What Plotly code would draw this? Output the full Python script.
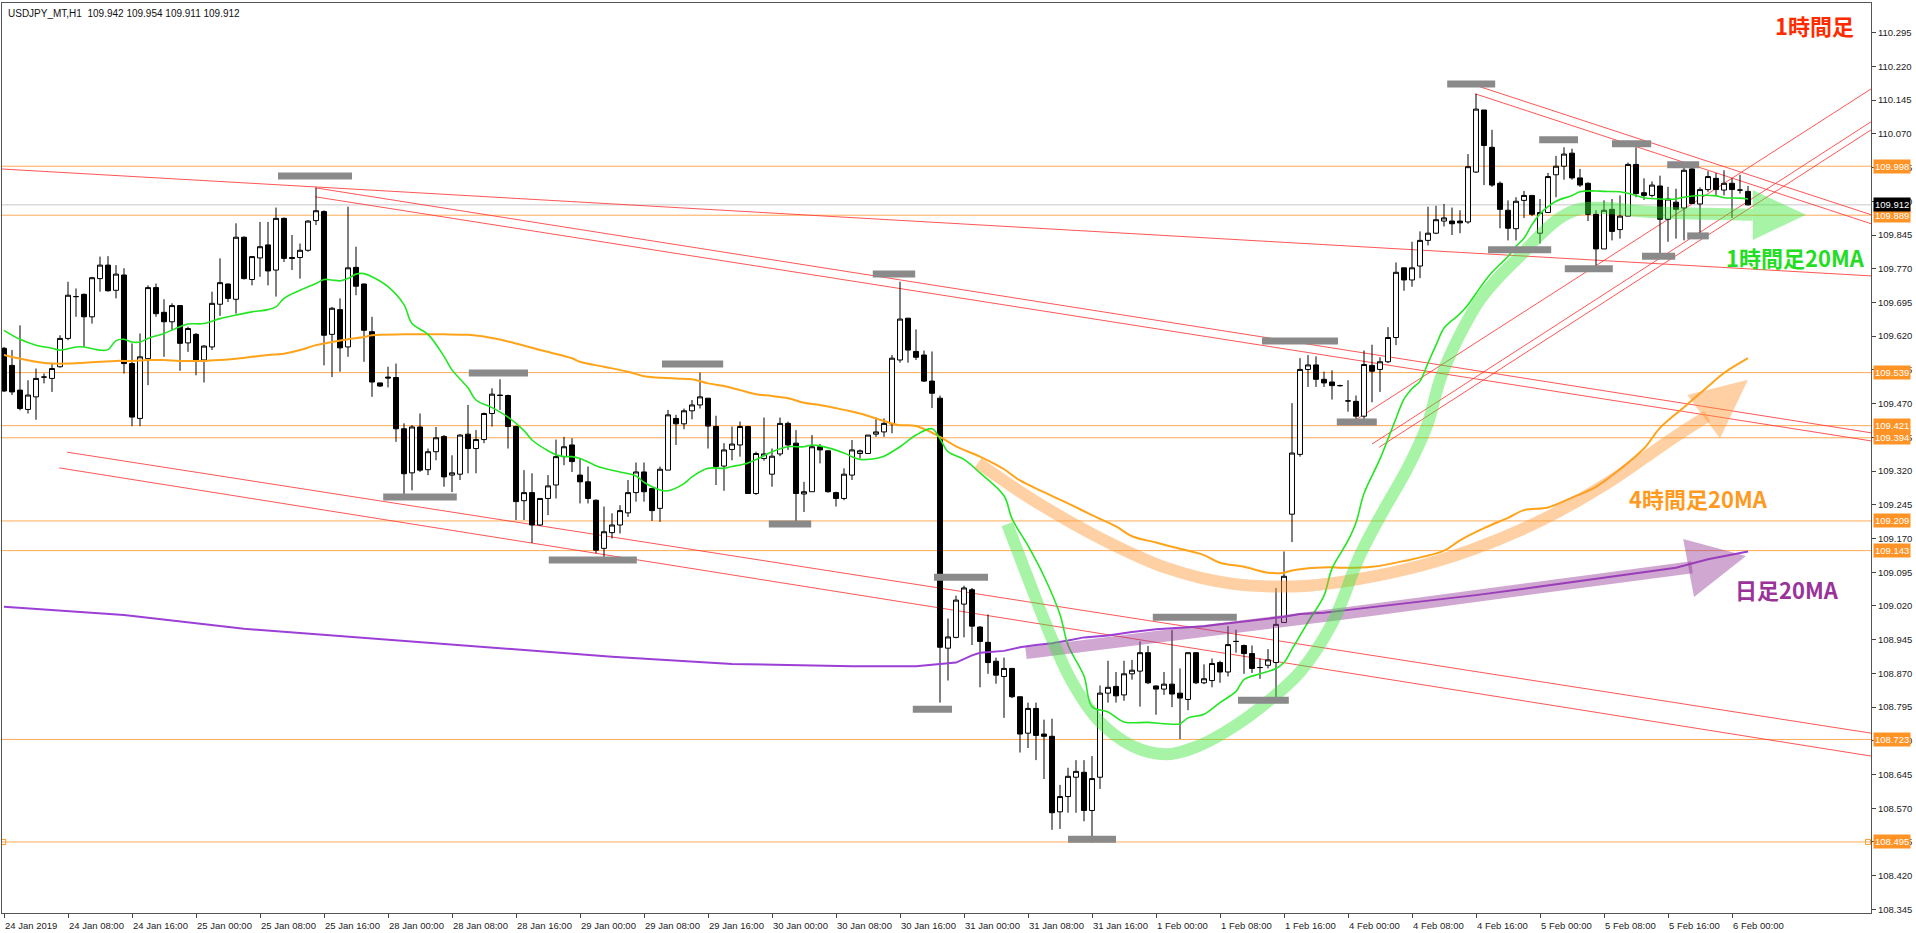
import plotly.graph_objects as go

# ---------------- data ----------------
opens = [109.593,109.555,109.500,109.457,109.485,109.529,109.526,109.552,109.615,109.708,
109.713,109.663,109.748,109.778,109.722,109.756,109.559,109.437,109.570,109.728,
109.673,109.652,109.688,109.605,109.624,109.567,109.596,109.691,109.736,109.702,
109.840,109.746,109.794,109.823,109.767,109.882,109.795,109.795,109.811,109.877,
109.897,109.624,109.679,109.596,109.773,109.736,109.630,109.516,109.529,109.528,
109.414,109.316,109.418,109.323,109.363,109.397,109.311,109.313,109.402,109.370,
109.390,109.448,109.489,109.488,109.419,109.254,109.272,109.200,109.259,109.289,
109.352,109.378,109.311,109.296,109.255,109.148,109.183,109.200,109.227,109.272,
109.318,109.281,109.237,109.322,109.437,109.425,109.454,109.467,109.482,109.419,
109.331,109.368,109.378,109.419,109.270,109.348,109.313,109.358,109.426,109.382,
109.269,109.274,109.374,109.365,109.272,109.259,109.311,109.359,109.359,109.402,
109.407,109.425,109.567,109.660,109.586,109.578,109.520,109.482,108.926,108.950,
109.024,109.056,108.973,108.939,108.897,108.863,108.881,108.818,108.737,108.792,
108.735,108.730,108.562,108.596,108.639,108.650,108.565,108.639,108.826,108.841,
108.822,108.869,108.875,108.916,108.842,108.835,108.846,108.826,108.812,108.916,
108.849,108.854,108.894,108.873,108.941,108.932,108.914,108.883,108.888,108.894,
108.983,109.224,109.357,109.546,109.556,109.524,109.518,109.510,109.476,109.475,
109.442,109.555,109.546,109.563,109.617,109.772,109.745,109.776,109.833,109.849,
109.876,109.876,109.876,109.874,109.985,110.123,110.040,109.960,109.900,109.859,
109.922,109.933,109.849,109.895,109.979,109.998,110.027,109.972,109.960,109.891,
109.814,109.902,109.857,109.887,110.002,109.939,109.933,109.954,109.880,109.918,
109.905,109.992,109.914,109.946,109.971,109.945,109.960,109.945,109.942]
highs = [109.596,109.589,109.644,109.522,109.548,109.537,109.559,109.622,109.741,109.726,
109.715,109.752,109.797,109.798,109.778,109.771,109.604,109.626,109.733,109.737,
109.702,109.693,109.689,109.641,109.627,109.600,109.719,109.793,109.737,109.871,
109.842,109.798,109.874,109.874,109.906,109.884,109.845,109.826,109.878,109.950,
109.900,109.685,109.704,109.908,109.819,109.737,109.663,109.516,109.552,109.559,
109.426,109.422,109.448,109.370,109.418,109.400,109.355,109.402,109.467,109.411,
109.450,109.504,109.524,109.490,109.421,109.322,109.315,109.259,109.311,109.390,
109.396,109.393,109.348,109.330,109.257,109.241,109.226,109.244,109.300,109.339,
109.339,109.282,109.330,109.456,109.445,109.459,109.478,109.539,109.482,109.443,
109.382,109.419,109.430,109.419,109.363,109.439,109.370,109.439,109.430,109.411,
109.296,109.400,109.380,109.366,109.274,109.326,109.389,109.368,109.400,109.439,
109.437,109.578,109.741,109.660,109.635,109.588,109.586,109.488,108.992,109.043,
109.065,109.060,108.975,109.001,108.905,108.905,108.882,108.818,108.805,108.805,
108.767,108.769,108.622,108.660,108.677,108.677,108.686,108.843,108.898,108.873,
108.898,108.900,108.941,108.931,108.843,108.873,108.966,108.881,108.916,108.917,
108.890,108.903,108.898,108.975,108.967,108.934,108.932,108.903,108.924,109.060,
109.141,109.471,109.571,109.578,109.575,109.541,109.544,109.512,109.522,109.488,
109.588,109.601,109.573,109.640,109.784,109.772,109.830,109.853,109.908,109.910,
109.914,109.906,109.900,110.025,110.159,110.123,110.079,109.964,109.922,109.929,
109.943,109.933,109.925,109.983,110.021,110.040,110.037,109.992,109.962,109.900,
109.922,109.925,109.933,110.006,110.040,109.971,109.964,109.977,109.952,109.948,
109.994,109.994,109.951,109.987,109.983,109.989,109.971,109.979,109.954]
lows = [109.496,109.489,109.455,109.448,109.434,109.515,109.496,109.550,109.611,109.663,
109.596,109.648,109.719,109.719,109.704,109.537,109.420,109.420,109.511,109.663,
109.574,109.633,109.543,109.585,109.533,109.517,109.589,109.665,109.696,109.670,
109.746,109.733,109.752,109.733,109.708,109.785,109.767,109.748,109.808,109.867,
109.555,109.529,109.541,109.574,109.711,109.563,109.485,109.507,109.506,109.385,
109.262,109.277,109.318,109.311,109.344,109.285,109.273,109.300,109.315,109.315,
109.382,109.419,109.456,109.370,109.211,109.211,109.160,109.198,109.222,109.259,
109.333,109.318,109.248,109.248,109.137,109.129,109.170,109.181,109.218,109.252,
109.252,109.209,109.207,109.322,109.378,109.413,109.435,109.459,109.370,109.289,
109.276,109.344,109.352,109.270,109.267,109.343,109.285,109.353,109.367,109.207,
109.229,109.274,109.337,109.272,109.241,109.255,109.300,109.348,109.358,109.396,
109.396,109.404,109.561,109.561,109.567,109.518,109.460,108.805,108.854,108.948,
108.950,108.933,108.839,108.869,108.847,108.771,108.815,108.694,108.704,108.677,
108.635,108.522,108.524,108.560,108.560,108.541,108.494,108.613,108.805,108.805,
108.809,108.856,108.796,108.846,108.778,108.822,108.795,108.724,108.788,108.846,
108.846,108.839,108.849,108.863,108.916,108.869,108.871,108.858,108.881,108.815,
108.983,109.162,109.352,109.507,109.507,109.507,109.479,109.508,109.452,109.431,
109.435,109.473,109.496,109.560,109.600,109.721,109.730,109.749,109.822,109.847,
109.864,109.845,109.849,109.870,109.983,109.956,109.952,109.860,109.833,109.833,
109.883,109.887,109.826,109.895,109.929,109.968,109.968,109.952,109.876,109.772,
109.814,109.833,109.837,109.887,109.929,109.923,109.929,109.795,109.830,109.837,
109.833,109.914,109.841,109.941,109.933,109.933,109.883,109.937,109.911]
closes = [109.498,109.496,109.459,109.489,109.526,109.529,109.548,109.615,109.711,109.708,
109.663,109.750,109.778,109.721,109.758,109.559,109.440,109.574,109.728,109.670,
109.652,109.688,109.604,109.637,109.567,109.598,109.693,109.739,109.704,109.840,
109.748,109.797,109.819,109.765,109.882,109.793,109.793,109.811,109.876,109.899,
109.622,109.682,109.594,109.772,109.731,109.633,109.518,109.509,109.527,109.414,
109.314,109.418,109.322,109.363,109.394,109.307,109.316,109.400,109.370,109.390,
109.448,109.491,109.488,109.419,109.252,109.272,109.200,109.259,109.287,109.352,
109.374,109.341,109.296,109.259,109.144,109.185,109.200,109.232,109.272,109.318,
109.274,109.232,109.324,109.445,109.425,109.454,109.467,109.485,109.420,109.330,
109.367,109.380,109.419,109.270,109.359,109.358,109.353,109.426,109.378,109.270,
109.274,109.374,109.367,109.274,109.259,109.313,109.367,109.365,109.400,109.407,
109.426,109.571,109.658,109.589,109.573,109.520,109.493,108.928,108.951,109.033,
109.060,108.975,108.941,108.894,108.866,108.881,108.818,108.735,108.792,108.732,
108.730,108.560,108.596,108.641,108.652,108.565,108.636,108.826,108.839,108.820,
108.869,108.877,108.916,108.849,108.835,108.846,108.824,108.815,108.916,108.849,
108.858,108.892,108.873,108.934,108.941,108.914,108.881,108.883,108.900,108.979,
109.086,109.360,109.546,109.556,109.524,109.516,109.510,109.510,109.476,109.442,
109.557,109.542,109.563,109.617,109.762,109.745,109.772,109.833,109.849,109.879,
109.883,109.870,109.872,109.997,110.125,110.044,109.956,109.902,109.860,109.920,
109.933,109.891,109.895,109.975,109.998,110.025,109.972,109.956,109.891,109.814,
109.900,109.853,109.887,110.002,109.937,109.933,109.956,109.880,109.925,109.902,
109.989,109.915,109.946,109.975,109.946,109.960,109.946,109.945,109.912]

# moving averages read at bar indices
ma1h_bar = [0,2,4,6,7,9,10,12,13,14,15,16,17,18,20,22,23,25,27,29,31,33,34,35,37,39,40,41,42,43,44,45,46,48,
            50,51,53,55,56,58,59,61,63,65,66,68,69,70,71,72,74,75,77,79,80,82,83,85,86,88,90,91,93,95,96,98,
            100,101,102,105,106,107,109,110,112,114,116,117,118,120,122,125,126,128,130,132,133,135,136,138,
            140,143,145,147,148,150,152,154,155,157,159,160,161,163,165,166,168,169,170,172,174,175,176,177,
            178,179,180,181,182,183,184,185,186,187,188,189,190,191,192,193,194,196,197,199,200,202,204,205,
            207,209,210,212,214,215,217,218]
ma1h_val = [109.633,109.613,109.600,109.593,109.589,109.596,109.596,109.589,109.590,109.610,109.613,109.607,
            109.607,109.615,109.626,109.641,109.647,109.648,109.659,109.667,109.674,109.679,109.685,109.704,
            109.722,109.737,109.746,109.745,109.743,109.748,109.758,109.759,109.752,109.730,109.690,109.648,
            109.624,109.575,109.545,109.505,109.478,109.461,109.440,109.410,109.389,109.365,109.356,109.352,
            109.352,109.348,109.332,109.326,109.318,109.309,109.295,109.278,109.276,109.292,109.307,109.326,
            109.326,109.330,109.338,109.354,109.363,109.374,109.374,109.378,109.376,109.360,109.352,109.346,
            109.348,109.353,109.374,109.400,109.414,109.392,109.363,109.346,109.316,109.265,109.214,109.154,
            109.086,109.001,108.933,108.864,108.796,108.784,108.762,108.761,108.758,108.758,108.771,108.779,
            108.805,108.830,108.856,108.869,108.881,108.894,108.924,108.984,109.043,109.103,109.165,109.205,
            109.270,109.347,109.437,109.480,109.503,109.520,109.560,109.600,109.638,109.655,109.670,109.690,
            109.715,109.740,109.762,109.780,109.797,109.820,109.838,109.868,109.892,109.908,109.920,109.933,
            109.941,109.943,109.942,109.941,109.933,109.928,109.925,109.925,109.929,109.933,109.932,109.928,
            109.927,109.925]
ma4h_bar = [0,2,4,6,8,10,12,14,16,18,20,22,25,27,29,31,33,35,37,39,41,43,45,46,50,53,55,58,60,63,67,71,72,
            75,78,80,84,86,88,90,92,94,96,98,100,102,105,107,109,111,112,114,117,119,122,125,127,130,133,136,
            139,141,144,147,150,152,155,158,160,161,164,166,167,171,175,180,182,185,188,190,193,196,199,202,
            205,207,210,213,215,218]
ma4h_val = [109.578,109.570,109.563,109.559,109.559,109.561,109.563,109.565,109.565,109.567,109.567,109.565,
            109.565,109.567,109.570,109.574,109.578,109.581,109.589,109.600,109.607,109.613,109.618,109.622,
            109.624,109.624,109.624,109.623,109.619,109.608,109.589,109.571,109.563,109.552,109.541,109.531,
            109.526,109.524,109.515,109.509,109.500,109.491,109.487,109.482,109.472,109.467,109.456,109.448,
            109.437,109.426,109.422,109.420,109.396,109.375,109.352,109.324,109.299,109.273,109.248,109.222,
            109.197,109.175,109.161,109.147,109.133,109.116,109.107,109.094,109.094,109.099,109.105,109.106,
            109.105,109.107,109.120,109.143,109.166,109.193,109.216,109.233,109.239,109.261,109.285,109.324,
            109.370,109.416,109.462,109.508,109.538,109.571]
ma1d_bar = [0,15,30,45,61,76,91,106,114,119,121,122,125,127,129,131,133,135,138,141,144,147,150,152,155,157,
            160,162,165,167,175,184,192,200,209,213,218]
ma1d_val = [109.018,109.000,108.969,108.949,108.927,108.907,108.891,108.886,108.886,108.894,108.910,108.916,
            108.920,108.928,108.933,108.937,108.943,108.950,108.954,108.962,108.968,108.971,108.975,108.979,
            108.985,108.990,108.996,109.002,109.005,109.009,109.025,109.044,109.063,109.082,109.105,109.124,
            109.141]

tick_labels = ["24 Jan 2019", "24 Jan 08:00", "24 Jan 16:00", "25 Jan 00:00", "25 Jan 08:00", "25 Jan 16:00",
               "28 Jan 00:00", "28 Jan 08:00", "28 Jan 16:00", "29 Jan 00:00", "29 Jan 08:00", "29 Jan 16:00",
               "30 Jan 00:00", "30 Jan 08:00", "30 Jan 16:00", "31 Jan 00:00", "31 Jan 08:00", "31 Jan 16:00",
               "1 Feb 00:00", "1 Feb 08:00", "1 Feb 16:00", "4 Feb 00:00", "4 Feb 08:00", "4 Feb 16:00",
               "5 Feb 00:00", "5 Feb 08:00", "5 Feb 16:00", "6 Feb 00:00"]
price_ticks = [110.295, 110.220, 110.145, 110.070, 109.995, 109.920, 109.845, 109.770, 109.695, 109.620,
               109.545, 109.470, 109.395, 109.320, 109.245, 109.170, 109.095, 109.020, 108.945, 108.870,
               108.795, 108.720, 108.645, 108.570, 108.495, 108.420, 108.345]
levels = [109.998, 109.889, 109.539, 109.421, 109.394, 109.209, 109.143, 108.723, 108.495]
last_price = 109.912
header = "USDJPY_MT,H1  109.942 109.954 109.911 109.912"

# drawn trend lines: ((bar, price), (bar, price))
trend_lines = [((-0.5, 109.992), (233.4, 109.754)),
               ((38.9, 109.950), (233.4, 109.405)),
               ((38.9, 109.930), (233.4, 109.387)),
               ((7.9, 109.362), (233.4, 108.737)),
               ((6.9, 109.327), (233.4, 108.686)),
               ((168.9, 109.433), (233.4, 110.170)),
               ((171.0, 109.380), (233.4, 110.097)),
               ((171.9, 109.373), (233.4, 110.079)),
               ((184.1, 110.177), (233.4, 109.890)),
               ((183.9, 110.159), (233.4, 109.870))]
# high/low markers: (bar from, bar to, price)
markers = [(34.25, 43.5, 109.976), (47.4, 56.6, 109.262), (58.1, 65.5, 109.538), (82.25, 89.9, 109.558),
           (68.1, 79.1, 109.122), (95.6, 100.9, 109.202), (108.6, 113.9, 109.758), (113.6, 118.5, 108.790),
           (116.25, 123.0, 109.084), (133.0, 139.0, 108.501), (143.6, 154.1, 108.995), (154.25, 160.6, 108.810),
           (157.25, 166.75, 109.609), (166.6, 171.6, 109.429), (180.4, 186.4, 110.181), (185.5, 193.4, 109.812),
           (191.9, 196.75, 110.057), (195.1, 201.1, 109.770), (201.0, 205.9, 110.048), (204.75, 208.9, 109.798),
           (207.9, 211.9, 110.001), (210.4, 213.1, 109.843)]
# hand-drawn arrows (bar, price)
orange_arrow = [(121.75, 109.338), (128.6, 109.256), (137, 109.171), (145.4, 109.104), (153.6, 109.069),
                (162, 109.064), (167, 109.073), (175.4, 109.102), (183.6, 109.146), (192, 109.209),
                (200.4, 109.293), (208.6, 109.393), (212.9, 109.442)]
orange_head = [(210.4, 109.489), (214.5, 109.393), (218.0, 109.523)]
green_arrow = [(125.4, 109.202), (127.9, 109.086), (130.75, 108.957), (133.6, 108.848), (137, 108.762),
               (141.1, 108.708), (145.4, 108.690), (149.5, 108.710), (153.6, 108.750), (157.9, 108.806),
               (162, 108.873), (166.1, 108.984), (169.5, 109.133), (172.4, 109.231), (175.4, 109.325),
               (177.9, 109.422), (179.5, 109.523), (181.1, 109.591), (182.9, 109.654), (184.5, 109.701),
               (187, 109.754), (189.5, 109.798), (192, 109.845), (194.5, 109.883), (197, 109.903),
               (200.4, 109.905), (204.5, 109.898), (208.6, 109.894), (212.9, 109.892), (218.6, 109.890)]
green_head = [(218.6, 109.945), (218.6, 109.834), (225.25, 109.890)]
purple_arrow = [(127.75, 108.915), (167, 109.002), (197, 109.073), (211, 109.106)]
purple_head = [(209.9, 109.169), (211.25, 109.040), (217.75, 109.131)]

# ---------------- figure ----------------
bars = list(range(len(opens)))
fig = go.Figure()

fig.add_trace(go.Candlestick(
    x=bars, open=opens, high=highs, low=lows, close=closes,
    increasing=dict(line=dict(color="black", width=1), fillcolor="white"),
    decreasing=dict(line=dict(color="black", width=1), fillcolor="black"),
    whiskerwidth=0, hoverinfo="skip", showlegend=False))

fig.add_trace(go.Scatter(x=ma1d_bar, y=ma1d_val, mode="lines", line=dict(color="#9B3FD6", width=2),
                         hoverinfo="skip", showlegend=False))
fig.add_trace(go.Scatter(x=ma4h_bar, y=ma4h_val, mode="lines", line=dict(color="#FFA31A", width=2, shape="spline"),
                         hoverinfo="skip", showlegend=False))
fig.add_trace(go.Scatter(x=ma1h_bar, y=ma1h_val, mode="lines", line=dict(color="#22E622", width=1.6, shape="spline"),
                         hoverinfo="skip", showlegend=False))

def add_arrow(path, head, color):
    fig.add_trace(go.Scatter(x=[p[0] for p in path], y=[p[1] for p in path], mode="lines",
                             line=dict(color=color, width=12, shape="spline"),
                             hoverinfo="skip", showlegend=False))
    fig.add_trace(go.Scatter(x=[p[0] for p in head] + [head[0][0]], y=[p[1] for p in head] + [head[0][1]],
                             mode="lines", fill="toself", fillcolor=color, line=dict(width=0, color=color),
                             hoverinfo="skip", showlegend=False))

add_arrow(orange_arrow, orange_head, "rgba(255,150,50,0.45)")
add_arrow(purple_arrow, purple_head, "rgba(150,60,150,0.45)")
add_arrow(green_arrow, green_head, "rgba(60,230,60,0.45)")

# small squares on the 108.495 line
fig.add_trace(go.Scatter(x=[-0.1, 233.0], y=[108.495, 108.495], mode="markers",
                         marker=dict(symbol="square-open", size=5, color="#FF9A2E", line=dict(width=1)),
                         hoverinfo="skip", showlegend=False))

shapes = []
for lv in levels:
    shapes.append(dict(type="line", xref="paper", x0=0, x1=1, yref="y", y0=lv, y1=lv,
                       line=dict(color="#FFAA55", width=1), layer="below"))
shapes.append(dict(type="line", xref="paper", x0=0, x1=1, yref="y", y0=last_price, y1=last_price,
                   line=dict(color="#C8C8C8", width=1), layer="below"))
for (a, b) in trend_lines:
    shapes.append(dict(type="line", xref="x", yref="y", x0=a[0], y0=a[1], x1=b[0], y1=b[1],
                       line=dict(color="rgba(255,55,55,0.85)", width=1), layer="below"))
for (x0, x1, p) in markers:
    shapes.append(dict(type="line", xref="x", yref="y", x0=x0, x1=x1, y0=p, y1=p,
                       line=dict(color="#8A8A8A", width=7), layer="above"))

annotations = []
for k, lab in enumerate(tick_labels):
    annotations.append(dict(x=k * 8, xref="x", y=0, yref="paper", text=lab, showarrow=False,
                            xanchor="left", yanchor="top", xshift=-1, yshift=-5,
                            font=dict(family="Liberation Sans, Arial", size=9.5, color="#222")))
for lv in levels:
    annotations.append(dict(x=1, xref="paper", y=lv, yref="y", text=f"{lv:.3f}", showarrow=False,
                            xanchor="left", yanchor="middle", xshift=2, bgcolor="#FF9326",
                            borderpad=1, font=dict(family="Liberation Sans, Arial", size=9.5, color="white")))
annotations.append(dict(x=1, xref="paper", y=last_price, yref="y", text=f"{last_price:.3f}", showarrow=False,
                        xanchor="left", yanchor="middle", xshift=2, bgcolor="black", borderpad=1,
                        font=dict(family="Liberation Sans, Arial", size=9.5, color="white")))
annotations.append(dict(x=0, xref="paper", y=1, yref="paper", text=header, showarrow=False,
                        xanchor="left", yanchor="top", xshift=4, yshift=-3,
                        font=dict(family="Liberation Sans, Arial", size=10, color="#111")))
cjk = "Noto Sans CJK JP, Noto Sans, sans-serif"
annotations.append(dict(x=226.25, y=110.312, text="<b>1時間足</b>", showarrow=False,
                        font=dict(family=cjk, size=22, color="#FF2A00")))
annotations.append(dict(x=223.9, y=109.796, text="<b>1時間足20MA</b>", showarrow=False,
                        font=dict(family=cjk, size=22, color="#22DD22")))
annotations.append(dict(x=211.75, y=109.260, text="<b>4時間足20MA</b>", showarrow=False,
                        font=dict(family=cjk, size=22, color="#FF9A1F")))
annotations.append(dict(x=222.9, y=109.057, text="<b>日足20MA</b>", showarrow=False,
                        font=dict(family=cjk, size=22, color="#993399")))

fig.update_layout(
    width=1916, height=933,
    margin=dict(l=2, r=45, t=3, b=20),
    paper_bgcolor="white", plot_bgcolor="white",
    boxgap=0.38, boxgroupgap=0,
    shapes=shapes, annotations=annotations,
    showlegend=False,
    xaxis=dict(range=[-0.25, 233.375], showgrid=False, zeroline=False,
               tickvals=[k * 8 for k in range(len(tick_labels))], showticklabels=False,
               ticks="outside", ticklen=4, tickcolor="#444",
               showline=True, linecolor="#555", linewidth=1, mirror=True,
               rangeslider=dict(visible=False), fixedrange=True),
    yaxis=dict(range=[108.337, 110.361], side="right", showgrid=False, zeroline=False,
               tickvals=price_ticks, tickformat=".3f", ticks="outside", ticklen=4, tickcolor="#444",
               tickfont=dict(family="Liberation Sans, Arial", size=9.5, color="#222"),
               showline=True, linecolor="#555", linewidth=1, mirror=True, fixedrange=True),
)

fig.write_html("out.html", config={"displayModeBar": False},
               post_script="document.body.style.margin='0';document.body.style.overflow='hidden';")
